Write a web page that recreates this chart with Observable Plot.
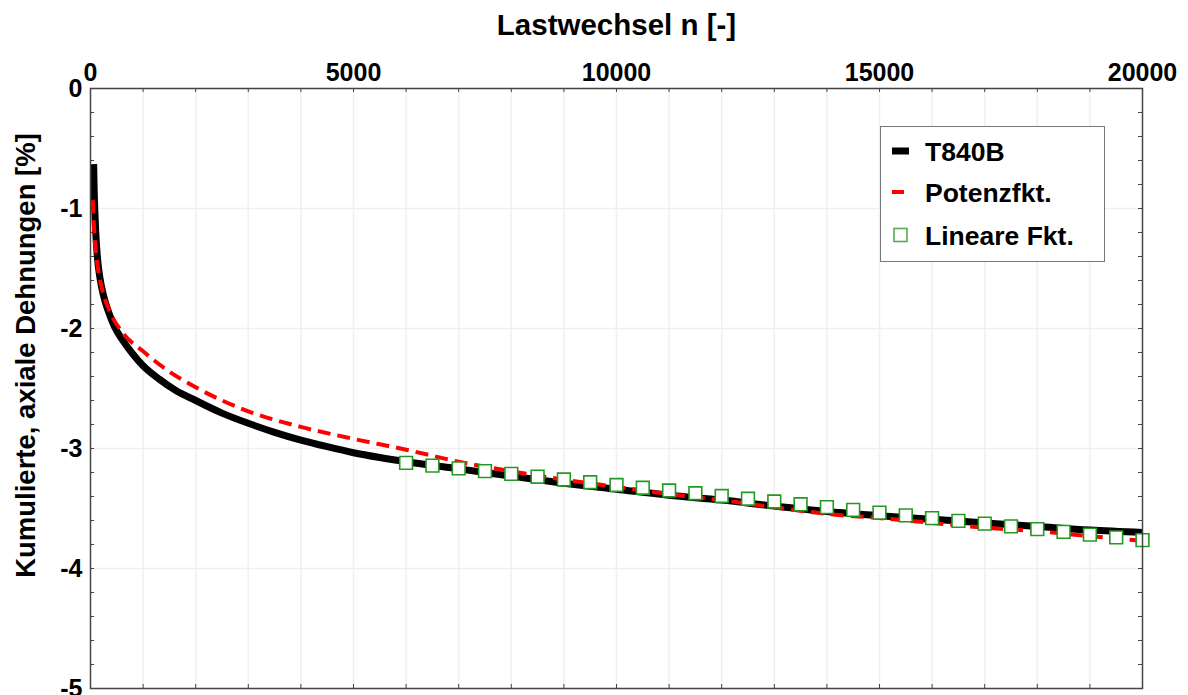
<!DOCTYPE html>
<html>
<head>
<meta charset="utf-8">
<script src="https://cdn.jsdelivr.net/npm/d3@7"></script>
<script src="https://cdn.jsdelivr.net/npm/@observablehq/plot@0.6"></script>
<style>
  html, body { margin: 0; padding: 0; background: #fff; }
  #wrap { position: relative; width: 1188px; height: 695px; }
  #legend { position: absolute; left: 0; top: 0; pointer-events: none; }
</style>
</head>
<body>
<div id="wrap"></div>
<script>
// ---- data ----
const xTicks = [0, 5000, 10000, 15000, 20000];
const yTicks = [0, -1, -2, -3, -4, -5];
const xTitle = "Lastwechsel n [-]";
const yTitle = "Kumulierte, axiale Dehnungen [%]";
const seriesNames = ["T840B", "Potenzfkt.", "Lineare Fkt."];

// T840B measured curve
const blackN = [60, 70, 85, 100, 130, 180, 250, 350, 450, 600, 800, 1000, 1300, 1600, 2000, 2500, 3000, 3500, 4000, 4500, 5000, 5500, 6000, 7000, 8000, 9000, 10000, 11000, 12000, 13000, 14000, 15000, 16000, 17000, 18000, 19000, 20000];
const blackY = [-0.63, -0.85, -1.05, -1.20, -1.40, -1.58, -1.73, -1.87, -1.98, -2.09, -2.21, -2.31, -2.42, -2.51, -2.60, -2.705, -2.79, -2.865, -2.93, -2.985, -3.035, -3.075, -3.11, -3.17, -3.23, -3.29, -3.34, -3.39, -3.43, -3.48, -3.525, -3.56, -3.59, -3.62, -3.65, -3.68, -3.70];

// Potenzfunktion (power fit)
const redN = [45, 60, 80, 100, 150, 250, 380, 600, 1000, 1500, 2000, 3000, 4000, 5000, 6000, 7000, 8000, 9000, 10000, 11000, 12000, 13000, 14000, 15000, 16000, 17000, 18000, 19000, 20000];
const redY = [-0.93, -1.10, -1.25, -1.35, -1.52, -1.72, -1.87, -2.03, -2.19, -2.36, -2.49, -2.69, -2.82, -2.92, -3.01, -3.11, -3.19, -3.26, -3.32, -3.38, -3.43, -3.49, -3.545, -3.58, -3.62, -3.66, -3.69, -3.73, -3.77];

// Lineare Funktion (markers)
const greenN = [6000, 6500, 7000, 7500, 8000, 8500, 9000, 9500, 10000, 10500, 11000, 11500, 12000, 12500, 13000, 13500, 14000, 14500, 15000, 15500, 16000, 16500, 17000, 17500, 18000, 18500, 19000, 19500, 20000];
const greenY = [-3.120, -3.143, -3.166, -3.189, -3.212, -3.235, -3.258, -3.281, -3.304, -3.327, -3.350, -3.373, -3.396, -3.419, -3.442, -3.465, -3.488, -3.511, -3.534, -3.557, -3.580, -3.603, -3.626, -3.649, -3.672, -3.695, -3.718, -3.741, -3.764];

const xGrid = d3.range(1000, 20000, 1000);
const xMinor = d3.range(1000, 20000, 1000);
const yMinor = d3.range(1, 25).map(i => -i * 0.2);

const black = blackN.map((n, i) => ({n, y: blackY[i]}));
const red = redN.map((n, i) => ({n, y: redY[i]}));
const green = greenN.map((n, i) => ({n, y: greenY[i]}));

const W = 1188, H = 695, mT = 88, mL = 90, mR = 46, mB = 7;
const innerH = H - mT - mB, innerW = W - mL - mR;
const axisColor = "#444";
const font = "'Liberation Sans', Arial, Helvetica, sans-serif";

const chart = Plot.plot({
  width: W, height: H,
  marginTop: mT, marginLeft: mL, marginRight: mR, marginBottom: mB,
  x: {domain: [0, 20000]},
  y: {domain: [-5, 0]},
  style: {fontFamily: font, fontWeight: "bold", fontSize: "25px", color: "#000", background: "#fff", overflow: "visible"},
  marks: [
    Plot.gridX(xGrid, {stroke: "#f0f0f0", strokeOpacity: 1, strokeWidth: 1.5}),
    Plot.gridY(yTicks, {stroke: "#f0f0f0", strokeOpacity: 1, strokeWidth: 1.5}),
    Plot.tickX(xMinor, {x: d => d, insetBottom: innerH - 4, stroke: axisColor, strokeWidth: 1}),
    Plot.tickX(xMinor, {x: d => d, insetTop: innerH - 4, stroke: axisColor, strokeWidth: 1}),
    Plot.tickY(yMinor, {y: d => d, insetRight: innerW - 4, stroke: axisColor, strokeWidth: 1}),
    Plot.tickY(yMinor, {y: d => d, insetLeft: innerW - 4, stroke: axisColor, strokeWidth: 1}),
    Plot.line(black, {x: "n", y: "y", stroke: "#000", strokeWidth: 7, curve: "monotone-x", strokeLinecap: "butt"}),
    Plot.line(red, {x: "n", y: "y", stroke: "#ff0000", strokeWidth: 4, strokeDasharray: "13,7", curve: "monotone-x", strokeLinecap: "butt"}),
    Plot.dot(green, {x: "n", y: "y", symbol: "square", r: 7.2, stroke: "#229922", strokeWidth: 1.6, fill: "#fff"}),
    Plot.frame({stroke: axisColor, strokeWidth: 1.5}),
    Plot.axisX(xTicks, {anchor: "top", tickSize: 0, tickPadding: 8, fontSize: 25, label: null, tickFormat: d => String(d)}),
    Plot.axisY(yTicks, {anchor: "left", tickSize: 0, tickPadding: 8, fontSize: 25, label: null, tickFormat: d => String(d)}),
    Plot.text([xTitle], {frameAnchor: "top", dy: -54, fontSize: 29.5, lineAnchor: "bottom", fill: "#000"}),
    Plot.text([yTitle], {frameAnchor: "left", dx: -64, dy: -33, rotate: -90, fontSize: 27.5, lineAnchor: "middle", textAnchor: "middle", fill: "#000"})
  ]
});

const wrap = document.getElementById("wrap");
wrap.appendChild(chart);

// ---- legend overlay ----
const lg = d3.select(wrap).append("svg")
  .attr("id", "legend")
  .attr("width", W).attr("height", H)
  .style("font-family", font).style("font-weight", "bold");
const bx = 880.5, by = 126.5;
lg.append("rect").attr("x", bx).attr("y", by).attr("width", 224).attr("height", 135)
  .attr("fill", "#fff").attr("stroke", "#777").attr("stroke-width", 1);
const rowsY = [151, 192, 235];
lg.append("rect").attr("x", 892).attr("y", rowsY[0] - 3.5).attr("width", 17).attr("height", 7).attr("fill", "#000");
lg.append("rect").attr("x", 892).attr("y", rowsY[1] - 2).attr("width", 12).attr("height", 4).attr("fill", "#ff0000");
lg.append("rect").attr("x", 894).attr("y", rowsY[2] - 6.5).attr("width", 13).attr("height", 13)
  .attr("fill", "#fff").attr("stroke", "#55aa55").attr("stroke-width", 1.6);
seriesNames.forEach((s, i) => {
  lg.append("text").attr("x", 925).attr("y", rowsY[i] + 9.5)
    .attr("font-size", 26.5).attr("fill", "#000").text(s);
});
</script>
</body>
</html>
